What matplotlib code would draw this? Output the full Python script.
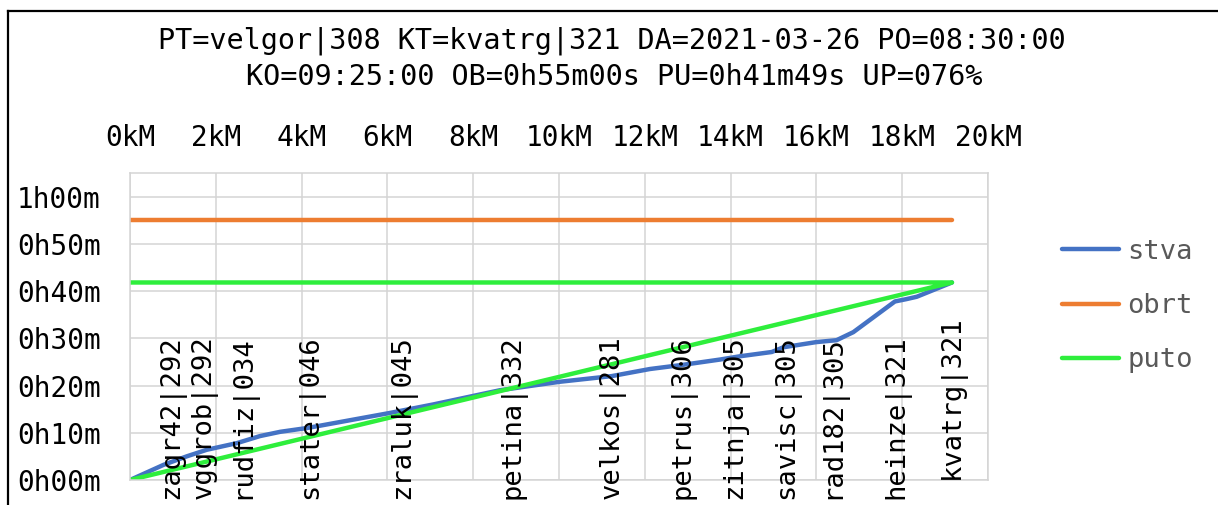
import matplotlib
matplotlib.use("Agg")
import matplotlib.pyplot as plt
from matplotlib.lines import Line2D

# ---- data ----
title_1 = "PT=velgor|308 KT=kvatrg|321 DA=2021-03-26 PO=08:30:00"
title_2 = "KO=09:25:00 OB=0h55m00s PU=0h41m49s UP=076%"

stations = ["zagr42|292", "vggrob|292", "rudfiz|034", "stater|046", "zraluk|045",
            "petina|332", "velkos|281", "petrus|306", "zitnja|305", "savisc|305",
            "rad182|305", "heinze|321", "kvatrg|321"]
station_km = [0.97, 1.72, 2.63, 4.22, 6.36, 8.93, 11.24, 12.89, 14.10, 15.31,
              16.39, 17.88, 19.16]

# stvarno vrijeme (km, minute)
stva_km = [0, 0.78, 1.32, 1.79, 2.49, 3.03, 3.50, 4.12, 4.43, 6.06, 7.07, 8.62,
           10.02, 11.23, 12.12, 12.90, 13.75, 14.22, 14.96, 15.23, 16.00, 16.47,
           16.86, 17.83, 18.10, 18.34, 19.16]
stva_min = [0, 3.2, 5.0, 6.4, 7.8, 9.3, 10.2, 11.0, 11.5, 14.2, 16.0, 19.0,
            20.8, 22.0, 23.5, 24.4, 25.5, 26.2, 27.1, 28.1, 29.2, 29.6,
            31.3, 37.8, 38.3, 38.8, 41.82]

obrt_km = [0, 19.16]
obrt_min = [55, 55]

puto_km = [0, 19.16, 0]
puto_min = [0, 41.82, 41.82]

km_ticks = list(range(0, 21, 2))
min_ticks = list(range(0, 61, 10))

MONO = "DejaVu Sans Mono"
W, H = 1218, 505

fig = plt.figure(figsize=(W / 100, H / 100), dpi=100)
fig.patch.set_facecolor("white")
ax = fig.add_axes([130 / W, 25 / H, 858 / W, 307 / H])

ax.plot(stva_km, stva_min, color="#4472C4", lw=3.2, label="stva", solid_capstyle="round")
ax.plot(obrt_km, obrt_min, color="#ED7D31", lw=3.2, label="obrt", solid_capstyle="round")
ax.plot(puto_km, puto_min, color="#2EEE3C", lw=3.2, label="puto", solid_capstyle="round")

ax.set_xlim(0, 20)
ax.set_ylim(0, 65)
ax.set_xticks(km_ticks)
ax.set_xticklabels([f"{k}kM" for k in km_ticks], fontfamily=MONO, fontsize=20)
ax.set_yticks(min_ticks)
ax.set_yticklabels([f"{m // 60}h{m % 60:02d}m" for m in min_ticks], fontfamily=MONO, fontsize=20)
ax.tick_params(axis="x", top=True, labeltop=True, bottom=False, labelbottom=False, length=0, pad=15)
ax.tick_params(axis="y", length=0, pad=21)
ax.grid(True, color="#D4D4D4", lw=1.1)
ax.set_axisbelow(True)
for sp in ax.spines.values():
    sp.set_color("#D4D4D4")
    sp.set_linewidth(1.1)

# station labels
for name, km in zip(stations, station_km):
    y = 17.6 if name.startswith("kvatrg") else 13.4
    ax.text(km, y, name, rotation=90, ha="center", va="center",
            fontfamily=MONO, fontsize=19.5, color="black", clip_on=False)

fig.text(612 / W, 1 - 41 / H, title_1, ha="center", va="center", fontfamily=MONO, fontsize=20.5)
fig.text(614 / W, 1 - 77 / H, title_2, ha="center", va="center", fontfamily=MONO, fontsize=20.5)

fig.legend(loc="center left", bbox_to_anchor=(1062 / W, 1 - 306 / H), frameon=False,
           prop={"family": MONO, "size": 19.5}, labelcolor="#595959",
           handlelength=2.1, handletextpad=0.3, labelspacing=1.05, borderpad=0,
           borderaxespad=0)

# outer chart border (left and top)
fig.add_artist(Line2D([8 / W, 8 / W], [0, 1 - 11 / H], color="black", lw=1.6,
                      transform=fig.transFigure))
fig.add_artist(Line2D([8 / W, 1], [1 - 11 / H, 1 - 11 / H], color="black", lw=1.6,
                      transform=fig.transFigure))

fig.savefig("out.png", dpi=100)
